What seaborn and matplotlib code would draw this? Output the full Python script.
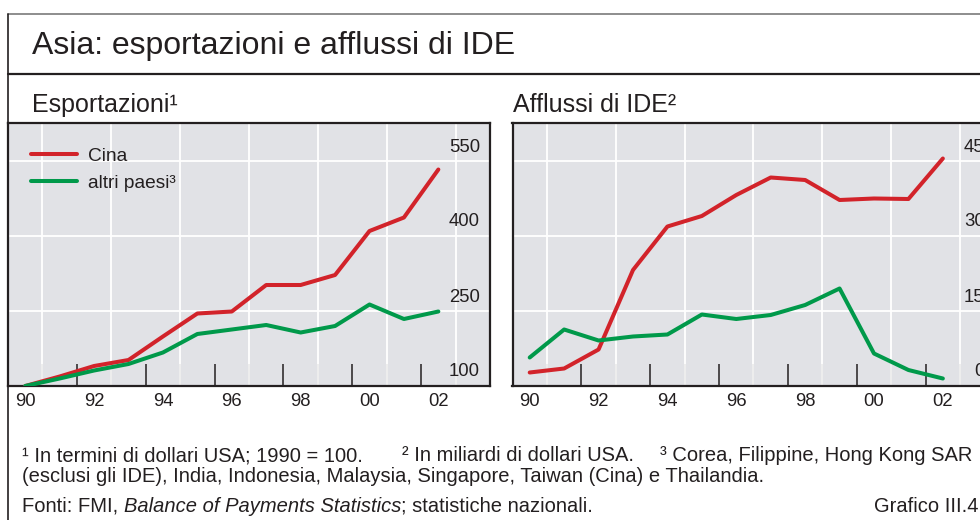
import numpy as np
import pandas as pd
import matplotlib
matplotlib.use("Agg")
import matplotlib.pyplot as plt
import matplotlib.transforms as mtransforms
from matplotlib.lines import Line2D
import seaborn as sns

# ---------------- data ----------------
years = list(range(1990, 2003))
exp_cina = [100, 119, 140, 152, 199, 245, 249, 302, 302, 322, 410, 437, 533]
exp_altri = [100, 115, 131, 144, 167, 204, 213, 222, 207, 220, 263, 234, 249]
ide_cina = [2.7, 3.5, 7.3, 23.2, 31.9, 34.0, 38.2, 41.7, 41.2, 37.2, 37.5, 37.4, 45.5]
ide_altri = [5.7, 11.3, 9.1, 9.9, 10.3, 14.3, 13.4, 14.2, 16.2, 19.5, 6.5, 3.2, 1.5]

series_names = ["Cina", "altri paesi³"]
xtick_years = [1990, 1992, 1994, 1996, 1998, 2000, 2002]
xtick_labels = ["90", "92", "94", "96", "98", "00", "02"]
exp_yticks = [100, 250, 400, 550]
ide_yticks = [0, 15, 30, 45]

title = "Asia: esportazioni e afflussi di IDE"
sub_left = "Esportazioni¹"
sub_right = "Afflussi di IDE²"
note1_parts = ["¹ In termini di dollari USA; 1990 = 100.",
               "² In miliardi di dollari USA.",
               "³ Corea, Filippine, Hong Kong SAR"]
note2 = "(esclusi gli IDE), India, Indonesia, Malaysia, Singapore, Taiwan (Cina) e Thailandia."
src_a = "Fonti: FMI, "
src_b = "Balance of Payments Statistics"
src_c = "; statistiche nazionali."
grafico = "Grafico III.4"

# ---------------- style ----------------
sns.set_style("white")
plt.rcParams["font.family"] = ["Liberation Sans", "DejaVu Sans"]
TXT = "#231F20"
RED = "#D2232A"
GREEN = "#00994A"
BG = "#E1E2E6"
palette = {series_names[0]: RED, series_names[1]: GREEN}

W, H = 980, 520
fig = plt.figure(figsize=(W / 100, H / 100), dpi=100)

def fx(px):
    return px / W

def fy(py):
    return 1 - py / H

ax_l = fig.add_axes([fx(8), fy(386), fx(482), 263 / H])
ax_r = fig.add_axes([fx(512.5), fy(386), fx(482), 263 / H])

df_exp = pd.DataFrame({
    "anno": years * 2,
    "valore": exp_cina + exp_altri,
    "serie": [series_names[0]] * len(years) + [series_names[1]] * len(years),
})
df_ide = pd.DataFrame({
    "anno": years * 2,
    "valore": ide_cina + ide_altri,
    "serie": [series_names[0]] * len(years) + [series_names[1]] * len(years),
})

panels = [
    (ax_l, df_exp, exp_yticks, (100, 626)),
    (ax_r, df_ide, ide_yticks, (0, 52.6)),
]

for ax, df, yt, ylim in panels:
    ax.set_facecolor(BG)
    for xg in np.arange(1990.5, 2003, 2):
        ax.axvline(xg, color="white", lw=1.3, zorder=1)
    for yg in yt[1:]:
        ax.axhline(yg, color="white", lw=1.3, zorder=1)
    sns.lineplot(data=df, x="anno", y="valore", hue="serie",
                 hue_order=series_names, palette=palette, lw=2.9,
                 legend=False, ax=ax, zorder=3)
    ax.set_xlim(1989.5, 2003.5)
    ax.set_ylim(*ylim)
    ax.set_xlabel("")
    ax.set_ylabel("")
    ax.set_xticks(xtick_years)
    ax.set_xticklabels(xtick_labels)
    ax.set_xticks(np.arange(1990.5, 2003, 1), minor=True)
    ax.tick_params(axis="x", which="major", length=0, pad=5,
                   labelsize=13.3, labelcolor=TXT)
    ax.tick_params(axis="x", which="minor", direction="in", length=15.8,
                   width=1.1, color=TXT, bottom=True, top=False)
    ax.set_yticks([])
    for s in ax.spines.values():
        s.set_color(TXT)
        s.set_linewidth(1.6)
    trans = mtransforms.blended_transform_factory(ax.transAxes, ax.transData) + \
        mtransforms.ScaledTranslation(-10 / 100, 9.5 / 100, fig.dpi_scale_trans)
    for v in yt:
        ax.text(1, v, str(v), transform=trans, ha="right", va="baseline",
                fontsize=13.3, color=TXT, zorder=4)

handles = [Line2D([], [], color=palette[n], lw=2.9) for n in series_names]
leg = ax_l.legend(handles, series_names, loc="upper left",
                  bbox_to_anchor=(23 / 482, 0.908), frameon=False,
                  borderpad=0, borderaxespad=0, handlelength=2.4,
                  handletextpad=0.55, labelspacing=0.5, fontsize=13.8)
for t in leg.get_texts():
    t.set_color(TXT)

# ---------------- texts ----------------
fig.text(fx(32), fy(54), title, fontsize=23, color=TXT, va="baseline", ha="left")
fig.text(fx(32), fy(111.7), sub_left, fontsize=18, color=TXT, va="baseline", ha="left")
fig.text(fx(513), fy(111.7), sub_right, fontsize=18, color=TXT, va="baseline", ha="left")

FN = 14.5
for xpos, part in zip([22, 402, 660], note1_parts):
    fig.text(fx(xpos), fy(461), part, fontsize=FN, color=TXT, va="baseline", ha="left")
fig.text(fx(22), fy(482), note2, fontsize=FN, color=TXT, va="baseline", ha="left")
t1 = fig.text(fx(22), fy(512), src_a, fontsize=FN, color=TXT, va="baseline", ha="left")
t2 = fig.text(0, 0, src_b, fontsize=FN, color=TXT, style="italic", va="baseline", ha="left")
t3 = fig.text(0, 0, src_c, fontsize=FN, color=TXT, va="baseline", ha="left")
fig.text(fx(978), fy(512), grafico, fontsize=FN, color=TXT, va="baseline", ha="right")

fig.canvas.draw()
r = fig.canvas.get_renderer()
bb1 = t1.get_window_extent(r)
t2.set_position((bb1.x1 / W, fy(512)))
bb2 = t2.get_window_extent(r)
t3.set_position((bb2.x1 / W, fy(512)))

# ---------------- frame ----------------
fig.add_artist(Line2D([fx(8), 1.0], [fy(14), fy(14)], color="#7A7A7A", lw=1.2))
fig.add_artist(Line2D([fx(8), 1.0], [fy(74), fy(74)], color=TXT, lw=1.6))
fig.add_artist(Line2D([fx(8), fx(8)], [0, fy(14)], color=TXT, lw=1.2))

fig.savefig("out.png", dpi=100)
